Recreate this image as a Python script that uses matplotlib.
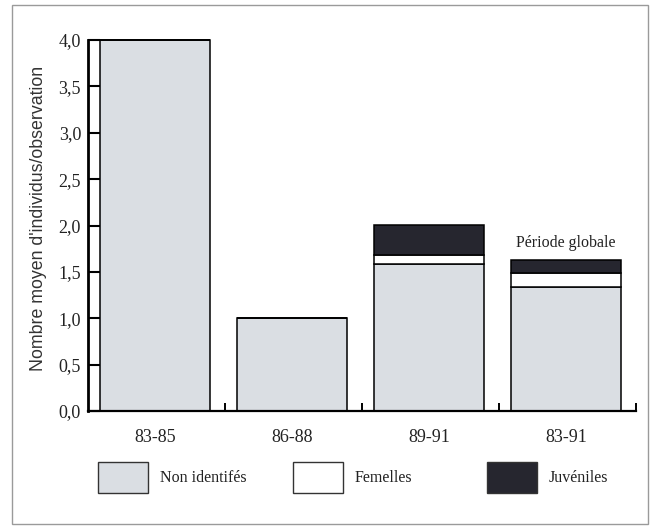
import matplotlib
matplotlib.use("Agg")
import matplotlib.pyplot as plt
from matplotlib.patches import Rectangle
from matplotlib.ticker import FuncFormatter, FixedLocator

periods = ["83-85", "86-88", "89-91", "83-91"]
non_identifies = [4.0, 1.0, 1.58, 1.34]
femelles = [0.0, 0.0, 0.10, 0.15]
juveniles = [0.0, 0.0, 0.32, 0.14]
series_names = ["Non identifés", "Femelles", "Juvéniles"]
annotation = "Période globale"
ylabel = "Nombre moyen d'individus/observation"
yticks = [0.0, 0.5, 1.0, 1.5, 2.0, 2.5, 3.0, 3.5, 4.0]

c_non = "#dadee3"
c_fem = "#ffffff"
c_juv = "#26262f"
colors = [c_non, c_fem, c_juv]

serif = ["Liberation Serif", "DejaVu Serif"]
sans = ["Liberation Sans", "DejaVu Sans"]

fig = plt.figure(figsize=(6.54, 5.26), dpi=100)
ax = fig.add_axes([88/654, 1-411/526, (636-88)/654, (411-40)/526])

x = [i + 0.49 for i in range(len(periods))]
w = 0.80
ax.bar(x, non_identifies, width=w, color=c_non, edgecolor="black", linewidth=1.1, clip_on=False, zorder=2)
ax.bar(x, femelles, width=w, bottom=non_identifies, color=c_fem, edgecolor="black", linewidth=1.1, clip_on=False, zorder=2)
bottom2 = [a + b for a, b in zip(non_identifies, femelles)]
ax.bar(x, juveniles, width=w, bottom=bottom2, color=c_juv, edgecolor="black", linewidth=1.1, clip_on=False, zorder=2)

ax.set_xlim(0, len(periods))
ax.set_ylim(0, 4.0)

for s in ["top", "right"]:
    ax.spines[s].set_visible(False)
ax.spines["left"].set_linewidth(2.0)
ax.spines["bottom"].set_linewidth(1.6)

ax.set_yticks(yticks)
ax.yaxis.set_major_formatter(FuncFormatter(lambda v, p: f"{v:.1f}".replace(".", ",")))
ax.tick_params(axis="y", direction="in", length=8.6, width=1.5, pad=5, labelsize=13, labelcolor="#222222")
for lab in ax.get_yticklabels():
    lab.set_family(serif)

ax.set_xticks(x)
ax.set_xticklabels(periods, family=serif, fontsize=13, color="#222222")
ax.tick_params(axis="x", which="major", length=0, pad=13)
ax.xaxis.set_minor_locator(FixedLocator([1, 2, 3, 4]))
ax.tick_params(axis="x", which="minor", direction="in", length=6, width=1.4)

ax.set_ylabel(ylabel, family=sans, fontsize=12.8, color="#333333")
ax.yaxis.set_label_coords(-41/548, 0.52)

ax.text(x[3], 1.81, annotation, ha="center", va="center", family=serif, fontsize=11.5, color="#222222")

# legend (manual layout)
ph = 31/526
pw = 50/654
py = 1 - 493/526
starts = [98, 293, 487]
for s, name, col in zip(starts, series_names, colors):
    fig.add_artist(Rectangle((s/654, py), pw, ph, transform=fig.transFigure,
                             facecolor=col, edgecolor="#333333", linewidth=1.0))
    fig.text((s + 62)/654, py + ph/2, name, ha="left", va="center", family=serif, fontsize=11.5, color="#222222")

# outer frame
fig.add_artist(Rectangle((12/654, 2/526), 636/654, 519/526, transform=fig.transFigure,
                         fill=False, edgecolor="#9a9a9a", linewidth=1.0))

fig.savefig("out.png", dpi=100)
